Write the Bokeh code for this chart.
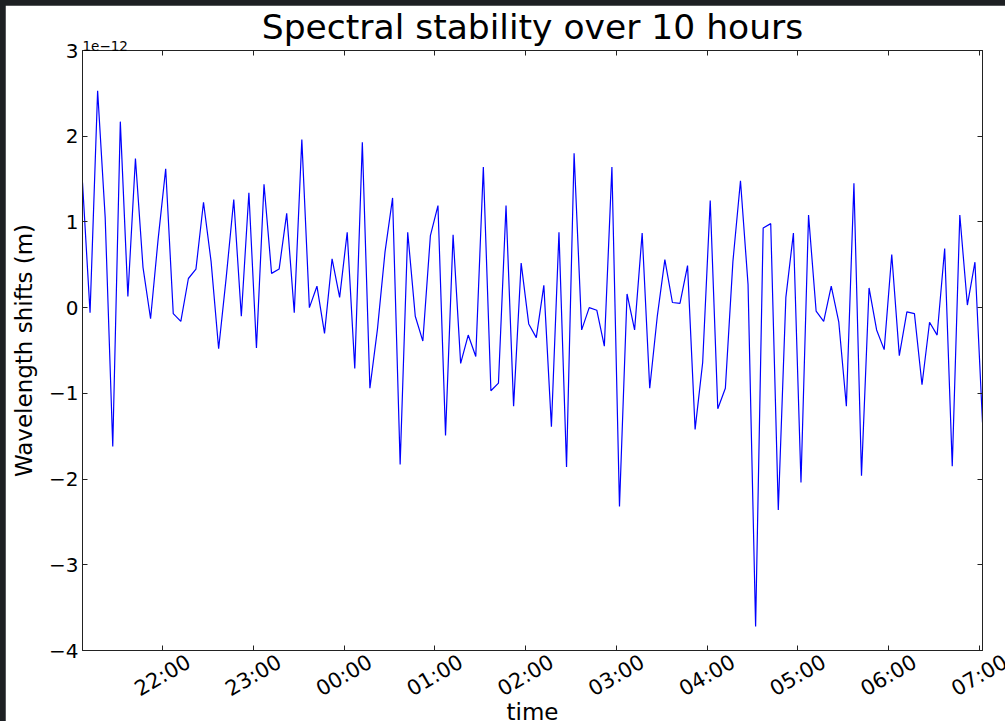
import math
import re
import pandas as pd
from bokeh.plotting import figure
from bokeh.models import (Range1d, FixedTicker, DatetimeTickFormatter, LinearAxis,
                          DatetimeAxis, Title, ColumnDataSource)
from bokeh.core.properties import value
from bokeh.embed import file_html
from bokeh.resources import INLINE

# ---------------- data ----------------
start_time = "2014-03-10 21:07"
step = "5min"
# wavelength shifts, in units of 1e-12 m
shift_e12 = [
    1.46, -0.06, 2.53, 1.05, -1.62, 2.17, 0.13, 1.74, 0.47, -0.13,
    0.80, 1.62, -0.07, -0.16, 0.34, 0.45, 1.23, 0.54, -0.48, 0.35,
    1.26, -0.10, 1.34, -0.47, 1.44, 0.40, 0.45, 1.10, -0.06, 1.96,
    0.00, 0.25, -0.30, 0.57, 0.12, 0.88, -0.71, 1.93, -0.94, -0.25,
    0.65, 1.28, -1.83, 0.88, -0.10, -0.39, 0.84, 1.19, -1.49, 0.85,
    -0.65, -0.32, -0.57, 1.64, -0.97, -0.88, 1.19, -1.15, 0.52, -0.19,
    -0.35, 0.26, -1.39, 0.88, -1.86, 1.80, -0.26, 0.00, -0.03, -0.45,
    1.64, -2.32, 0.16, -0.26, 0.87, -0.94, -0.10, 0.56, 0.06, 0.05,
    0.49, -1.42, -0.64, 1.25, -1.18, -0.94, 0.54, 1.48, 0.27, -3.72,
    0.93, 0.98, -2.36, 0.12, 0.87, -2.04, 1.08, -0.04, -0.16, 0.25,
    -0.17, -1.15, 1.45, -1.96, 0.23, -0.26, -0.49, 0.62, -0.56, -0.05,
    -0.07, -0.90, -0.17, -0.32, 0.69, -1.85, 1.08, 0.03, 0.53, -1.34,
]
hour_labels = ["22:00", "23:00", "00:00", "01:00", "02:00",
               "03:00", "04:00", "05:00", "06:00", "07:00"]
y_ticks = [-4, -3, -2, -1, 0, 1, 2, 3]
y_labels = ["\u22124", "\u22123", "\u22122", "\u22121", "0", "1", "2", "3"]
y_min, y_max = -4, 3

title_text = "Spectral stability over 10 hours"
x_label = "time"
y_label = "Wavelength shifts (m)"
offset_text = "1e\u221212"

# ---------------- layout constants (pixels) ----------------
PAGE_PAD = 5
W, H = 1000, 716
B_LEFT, B_RIGHT, B_TOP, B_BOT = 77, 23, 45, 71
STRIP_TOP = PAGE_PAD + H - B_BOT + 1     # strip just under the frame
STRIP_H = 70
TICKLAB_Y, XLAB_Y = 24, 60              # px from strip top (text centres)
FONT = "DejaVu Sans"
EDGE = "#222222"

# ---------------- build ----------------
times = pd.date_range(start_time, periods=len(shift_e12), freq=step)
t0 = pd.Timestamp(start_time)
tick_ms = []
for lab in hour_labels:
    hh = int(lab[:2])
    day = t0.normalize() + pd.Timedelta(days=0 if hh >= t0.hour else 1)
    tick_ms.append((day + pd.Timedelta(hours=hh)).value / 1e6)

t_start = times[0].value / 1e6
t_end = times[-1].value / 1e6
src = ColumnDataSource(dict(t=times, shift=shift_e12))

p = figure(width=W, height=H, x_axis_type="datetime", title=None,
           output_backend="svg", toolbar_location=None,
           x_range=Range1d(t_start, t_end), y_range=Range1d(y_min, y_max),
           min_border_left=B_LEFT, min_border_top=B_TOP, min_border_right=B_RIGHT,
           min_border_bottom=B_BOT, background_fill_color="white",
           border_fill_color="white")

p.line(x="t", y="shift", source=src, line_color="#0000ff", line_width=1.2)

p.grid.visible = False
p.outline_line_color = EDGE
p.outline_line_width = 1

xt = FixedTicker(ticks=tick_ms)
yt = FixedTicker(ticks=y_ticks)
fmt = DatetimeTickFormatter(hours="%H:%M", hourmin="%H:%M", minutes="%H:%M",
                            days="%H:%M", minsec="%H:%M")

for ax in (p.xaxis[0], p.yaxis[0]):
    ax.major_tick_in = 5
    ax.major_tick_out = 0
    ax.minor_tick_line_color = None
    ax.axis_line_color = EDGE
    ax.major_tick_line_color = EDGE
    ax.major_label_text_font = FONT
    ax.major_label_text_font_size = "20px"
    ax.major_label_text_color = "black"
    ax.axis_label_text_font = FONT
    ax.axis_label_text_font_size = "23px"
    ax.axis_label_text_font_style = "normal"
    ax.axis_label_text_color = "black"

# bottom axis: ticks only (labels drawn centred & rotated in the strip below)
p.xaxis[0].ticker = xt
p.xaxis[0].formatter = fmt
p.xaxis[0].major_label_text_color = None
p.xaxis[0].major_label_text_font_size = "0px"
p.xaxis[0].major_label_standoff = 0

p.yaxis[0].ticker = yt
p.yaxis[0].major_label_overrides = dict(zip(y_ticks, y_labels))
p.yaxis[0].major_label_standoff = 4
p.yaxis[0].axis_label = y_label
p.yaxis[0].axis_label_standoff = 9

# mirrored inward ticks on top and right
top = DatetimeAxis(ticker=xt, formatter=fmt, major_tick_in=5, major_tick_out=0,
                   minor_tick_line_color=None, axis_line_color=EDGE,
                   major_tick_line_color=EDGE, major_label_text_color=None,
                   major_label_text_font_size="0px", major_label_standoff=0)
right = LinearAxis(ticker=yt, major_tick_in=5, major_tick_out=0,
                   minor_tick_line_color=None, axis_line_color=EDGE,
                   major_tick_line_color=EDGE, major_label_text_color=None,
                   major_label_text_font_size="0px", major_label_standoff=0)
p.add_layout(top, "above")
p.add_layout(right, "right")

off_title = Title(text=offset_text, align="left", text_font=FONT,
                  text_font_size="13.5px", text_font_style="normal",
                  text_color="black", standoff=0)
main_title = Title(text=title_text, align="center", text_font=FONT,
                   text_font_size="34.5px", text_font_style="normal",
                   text_color="black", standoff=-16)
p.add_layout(off_title, "above")
p.add_layout(main_title, "above")

# transparent strip laid over the bottom margin, same horizontal scale as the frame
mpp = (t_end - t_start) / (W - B_LEFT - B_RIGHT)
q = figure(width=W, height=STRIP_H, output_backend="svg", toolbar_location=None,
           x_range=Range1d(t_start - B_LEFT * mpp, t_end + B_RIGHT * mpp),
           y_range=Range1d(STRIP_H, 0), min_border=0,
           min_border_left=0, min_border_right=0, min_border_top=0, min_border_bottom=0,
           x_axis_location=None, y_axis_location=None,
           background_fill_color=None, border_fill_color=None, outline_line_color=None)
q.grid.visible = False
q.text(x=tick_ms, y=[TICKLAB_Y] * len(tick_ms), text=hour_labels,
       angle=math.pi / 6, text_align="center", text_baseline="middle",
       text_font=value(FONT), text_font_size="21px", text_color="black")
q.text(x=[(t_start + t_end) / 2], y=[XLAB_Y], text=[x_label],
       text_align="center", text_baseline="middle",
       text_font=value(FONT), text_font_size="23px", text_color="black")

html = file_html([p, q], INLINE)

roots = re.findall(r'<div id="[^"]+"[^>]*data-root-id[^>]*></div>', html)
if len(roots) < 2:
    roots = re.findall(r'<div id="[^"]+"[^>]*></div>', html)
if len(roots) >= 2:
    html = html.replace(roots[0], '<div style="position:absolute;left:%dpx;top:%dpx;">%s</div>'
                        % (PAGE_PAD, PAGE_PAD, roots[0]), 1)
    html = html.replace(roots[1], '<div style="position:absolute;left:%dpx;top:%dpx;">%s</div>'
                        % (PAGE_PAD, STRIP_TOP, roots[1]), 1)
css = ("<style>html,body{margin:0 !important;padding:0 !important;"
       "background:#1d2023 !important;overflow:hidden !important;}</style>")
html = html.replace("</head>", css + "</head>", 1)
open("out.html", "w").write(html)
